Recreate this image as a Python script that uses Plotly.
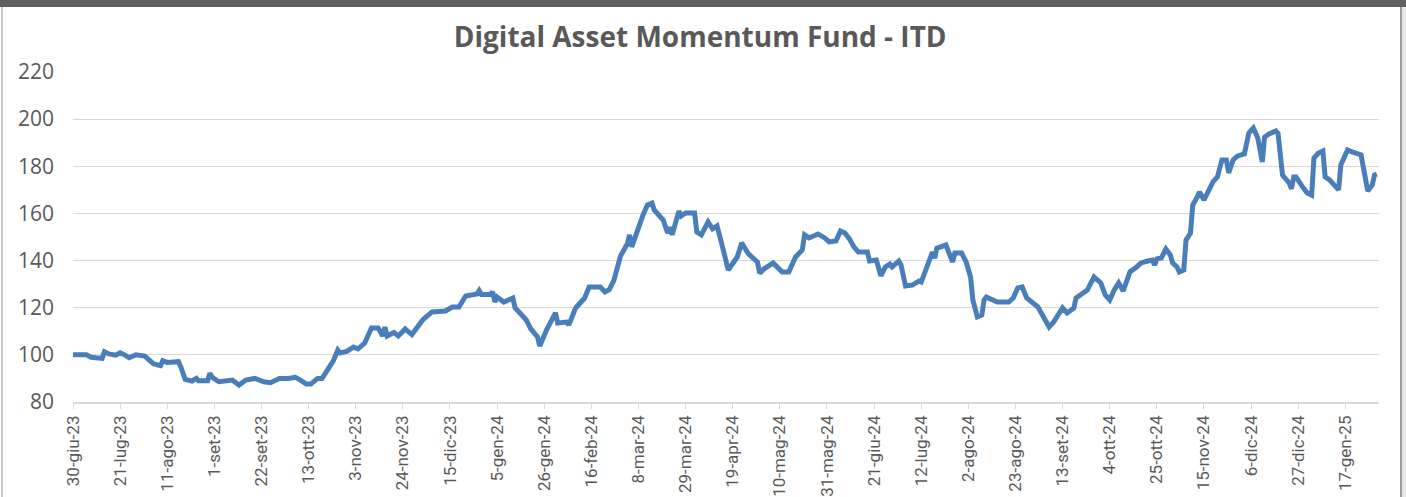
import plotly.graph_objects as go

dates = [
    "2023-06-30", "2023-07-06", "2023-07-08", "2023-07-12", "2023-07-13", "2023-07-14", "2023-07-16", "2023-07-19",
    "2023-07-21", "2023-07-23", "2023-07-25", "2023-07-28", "2023-08-01", "2023-08-03", "2023-08-05", "2023-08-08", "2023-08-09",
    "2023-08-11", "2023-08-16", "2023-08-17", "2023-08-19", "2023-08-22", "2023-08-24", "2023-08-25", "2023-08-29", "2023-08-30", "2023-08-31",
    "2023-09-03", "2023-09-07", "2023-09-09", "2023-09-12", "2023-09-15", "2023-09-19",
    "2023-09-23", "2023-09-26", "2023-09-30", "2023-10-04", "2023-10-07", "2023-10-09",
    "2023-10-12", "2023-10-14", "2023-10-17", "2023-10-19", "2023-10-22", "2023-10-24", "2023-10-26", "2023-10-27", "2023-10-30", "2023-11-02",
    "2023-11-04", "2023-11-07", "2023-11-10", "2023-11-13", "2023-11-15", "2023-11-16", "2023-11-17", "2023-11-20", "2023-11-22",
    "2023-11-25", "2023-11-28", "2023-11-30", "2023-12-03", "2023-12-07", "2023-12-13",
    "2023-12-16", "2023-12-19", "2023-12-22", "2023-12-27", "2023-12-28", "2023-12-29", "2024-01-02", "2024-01-03",
    "2024-01-04", "2024-01-05", "2024-01-08", "2024-01-12", "2024-01-13", "2024-01-16", "2024-01-18", "2024-01-20", "2024-01-23", "2024-01-24",
    "2024-01-25", "2024-01-27", "2024-01-31", "2024-02-01", "2024-02-05", "2024-02-06", "2024-02-09", "2024-02-13",
    "2024-02-15", "2024-02-20", "2024-02-22", "2024-02-24", "2024-02-26", "2024-02-29", "2024-03-03", "2024-03-04", "2024-03-05",
    "2024-03-08", "2024-03-10", "2024-03-12", "2024-03-14", "2024-03-15", "2024-03-19", "2024-03-21", "2024-03-22", "2024-03-23", "2024-03-26", "2024-03-27",
    "2024-03-29", "2024-04-02", "2024-04-03", "2024-04-05", "2024-04-08", "2024-04-10", "2024-04-12", "2024-04-14", "2024-04-17",
    "2024-04-21", "2024-04-23", "2024-04-26", "2024-04-30", "2024-05-01", "2024-05-03", "2024-05-07",
    "2024-05-11", "2024-05-14", "2024-05-17", "2024-05-20", "2024-05-21", "2024-05-23", "2024-05-27", "2024-05-30",
    "2024-06-01", "2024-06-04", "2024-06-06", "2024-06-08", "2024-06-10", "2024-06-12", "2024-06-14", "2024-06-18", "2024-06-19",
    "2024-06-22", "2024-06-24", "2024-06-26", "2024-06-28", "2024-06-29", "2024-07-02", "2024-07-03", "2024-07-05", "2024-07-08", "2024-07-11",
    "2024-07-12", "2024-07-14", "2024-07-17", "2024-07-18", "2024-07-19", "2024-07-23", "2024-07-24", "2024-07-26", "2024-07-27", "2024-07-30", "2024-08-01",
    "2024-08-03", "2024-08-04", "2024-08-06", "2024-08-08", "2024-08-09", "2024-08-10", "2024-08-15", "2024-08-20", "2024-08-22",
    "2024-08-24", "2024-08-26", "2024-08-28", "2024-08-30", "2024-09-01", "2024-09-02", "2024-09-04", "2024-09-07", "2024-09-09", "2024-09-11",
    "2024-09-13", "2024-09-15", "2024-09-18", "2024-09-19", "2024-09-22", "2024-09-24", "2024-09-27", "2024-09-30", "2024-10-02",
    "2024-10-04", "2024-10-06", "2024-10-08", "2024-10-10", "2024-10-13", "2024-10-16", "2024-10-18", "2024-10-21", "2024-10-23", "2024-10-24",
    "2024-10-25", "2024-10-27", "2024-10-29", "2024-10-31", "2024-11-01", "2024-11-03", "2024-11-04", "2024-11-06", "2024-11-07", "2024-11-09", "2024-11-10", "2024-11-12", "2024-11-13",
    "2024-11-15", "2024-11-17", "2024-11-19", "2024-11-21", "2024-11-23", "2024-11-25", "2024-11-26", "2024-11-28", "2024-11-30", "2024-12-03", "2024-12-05",
    "2024-12-07", "2024-12-09", "2024-12-11", "2024-12-12", "2024-12-14", "2024-12-17", "2024-12-18", "2024-12-19", "2024-12-20", "2024-12-23", "2024-12-24", "2024-12-25", "2024-12-26",
    "2024-12-29", "2024-12-31", "2025-01-02", "2025-01-03", "2025-01-05", "2025-01-07", "2025-01-08", "2025-01-10", "2025-01-12", "2025-01-14", "2025-01-15",
    "2025-01-18", "2025-01-20", "2025-01-22", "2025-01-24", "2025-01-27", "2025-01-29", "2025-01-30", "2025-01-31",
]
values = [
    100.0, 100.0, 99.0, 99.0, 98.5, 101.3, 100.4, 99.9,
    100.9, 100.0, 98.8, 100.0, 99.5, 97.8, 96.1, 95.4, 97.5,
    96.8, 97.1, 95.0, 89.6, 88.9, 90.0, 89.0, 89.0, 92.2, 90.5,
    88.6, 89.3, 89.3, 87.2, 89.3, 90.0,
    88.6, 88.2, 90.0, 90.0, 90.5, 89.5,
    87.6, 87.6, 90.0, 90.0, 94.4, 97.5, 102.0, 100.8, 101.5, 103.3,
    102.5, 105.0, 111.4, 111.4, 108.0, 111.8, 108.0, 109.5, 108.0,
    111.0, 108.6, 111.2, 115.0, 118.2, 118.6,
    120.3, 120.3, 125.0, 125.8, 127.3, 125.6, 125.6, 126.7,
    122.4, 124.5, 122.4, 124.1, 120.0, 116.5, 114.8, 111.0, 107.6, 103.8,
    106.0, 110.5, 117.8, 113.5, 113.9, 112.7, 119.9, 124.1,
    128.8, 128.8, 126.7, 127.7, 131.5, 142.0, 147.0, 150.9, 145.8,
    154.2, 159.3, 163.6, 164.4, 161.5, 157.2, 151.7, 154.2, 150.9, 161.0, 158.9,
    160.2, 160.2, 152.1, 150.9, 156.4, 153.5, 154.7, 147.5, 136.0,
    141.5, 147.5, 142.8, 139.4, 134.7, 136.5, 139.0,
    135.2, 135.2, 141.5, 144.5, 150.9, 149.6, 151.3, 149.6,
    147.9, 148.3, 152.5, 151.7, 149.2, 145.8, 143.6, 143.6, 139.8,
    140.2, 133.5, 137.3, 138.5, 137.3, 139.8, 138.1, 129.2, 129.6, 131.3,
    130.9, 136.4, 143.6, 141.0, 145.3, 146.6, 144.5, 139.4, 143.2, 143.2, 139.4,
    133.0, 123.3, 116.1, 116.9, 123.3, 124.5, 122.4, 122.4, 124.1,
    128.4, 128.8, 124.1, 122.4, 120.7, 120.3, 116.9, 111.8, 113.9, 116.9,
    119.9, 117.8, 119.9, 124.1, 125.8, 127.5, 133.0, 130.5, 125.4,
    123.3, 127.5, 130.5, 127.1, 135.2, 137.3, 139.0, 139.8, 140.2, 138.1,
    140.7, 141.1, 144.9, 142.4, 139.0, 137.3, 135.2, 136.0, 148.7, 151.7, 163.6, 167.0, 169.1,
    165.7, 170.0, 173.4, 175.5, 182.7, 182.7, 177.2, 182.7, 184.4, 185.2, 194.1,
    196.2, 192.0, 181.8, 192.4, 193.7, 195.0, 194.0, 183.5, 176.3, 172.9, 170.4, 175.5, 175.5,
    171.2, 168.7, 167.8, 183.5, 185.6, 186.5, 175.5, 174.2, 172.1, 170.0, 180.6,
    186.9, 186.1, 185.2, 184.8, 169.5, 172.1, 176.3, 176.7,
]

tick_dates = [
    "2023-06-30", "2023-07-21", "2023-08-11", "2023-09-01", "2023-09-22", "2023-10-13", "2023-11-03",
    "2023-11-24", "2023-12-15", "2024-01-05", "2024-01-26", "2024-02-16", "2024-03-08", "2024-03-29",
    "2024-04-19", "2024-05-10", "2024-05-31", "2024-06-21", "2024-07-12", "2024-08-02", "2024-08-23",
    "2024-09-13", "2024-10-04", "2024-10-25", "2024-11-15", "2024-12-06", "2024-12-27", "2025-01-17",
]
tick_labels = [
    "30-giu-23", "21-lug-23", "11-ago-23", "1-set-23", "22-set-23", "13-ott-23", "3-nov-23",
    "24-nov-23", "15-dic-23", "5-gen-24", "26-gen-24", "16-feb-24", "8-mar-24", "29-mar-24",
    "19-apr-24", "10-mag-24", "31-mag-24", "21-giu-24", "12-lug-24", "2-ago-24", "23-ago-24",
    "13-set-24", "4-ott-24", "25-ott-24", "15-nov-24", "6-dic-24", "27-dic-24", "17-gen-25",
]
y_ticks = [80, 100, 120, 140, 160, 180, 200, 220]

fig = go.Figure()
fig.add_trace(go.Scatter(
    x=dates, y=values, mode="lines",
    line=dict(color="#4a7ebb", width=5),
    showlegend=False, hoverinfo="x+y",
))

W, H = 1406, 497
L, R, T, B = 73, 27, 72, 95
pw, ph = W - L - R, H - T - B

def px_x(p):
    return (p - L) / pw

def px_y(p):
    return (H - B - p) / ph

fig.update_layout(
    width=W, height=H,
    margin=dict(l=L, r=R, t=T, b=B, autoexpand=False),
    paper_bgcolor="white", plot_bgcolor="white",
    title=dict(
        text="<b>Digital Asset Momentum Fund - ITD</b>",
        x=0.498, xanchor="center", xref="container",
        y=1 - 37 / H, yanchor="middle", yref="container",
        font=dict(family="Open Sans", size=28, color="#595959"),
    ),
    xaxis=dict(
        type="date",
        range=["2023-06-30", "2025-02-01"],
        tickmode="array", tickvals=tick_dates, ticktext=tick_labels,
        tickangle=-90,
        tickfont=dict(family="Liberation Sans Narrow, Roboto, Open Sans", size=17, color="#595959"),
        showgrid=False, zeroline=False,
        showline=True, linecolor="#d9d9d9", linewidth=1.5,
        ticks="outside", ticklen=5, tickcolor="#d9d9d9", tickwidth=1,
        fixedrange=True,
    ),
    yaxis=dict(
        range=[80, 220], tickmode="array", tickvals=y_ticks,
        tickfont=dict(family="Open Sans", size=21, color="#595959"),
        showgrid=True, gridcolor="#d9d9d9", gridwidth=1,
        zeroline=False, showline=False, ticks="",
        ticklabelstandoff=18,
        fixedrange=True,
    ),
    shapes=[
        dict(type="rect", xref="paper", yref="paper",
             x0=px_x(0), x1=px_x(W), y0=px_y(7), y1=px_y(0),
             fillcolor="#606060", line=dict(width=0), layer="above"),
        dict(type="line", xref="paper", yref="paper",
             x0=px_x(2), x1=px_x(2), y0=px_y(H), y1=px_y(7),
             line=dict(color="#c8c8c8", width=2)),
        dict(type="line", xref="paper", yref="paper",
             x0=px_x(1401), x1=px_x(1401), y0=px_y(H), y1=px_y(7),
             line=dict(color="#9a9a9a", width=2)),
        dict(type="rect", xref="paper", yref="paper",
             x0=px_x(1402), x1=px_x(W), y0=px_y(H), y1=px_y(7),
             fillcolor="#e8e8e8", line=dict(width=0)),
    ],
)

fig.write_html(
    "out.html",
    config={"displayModeBar": False},
    post_script="document.body.style.margin='0px';document.body.style.padding='0px';",
)
